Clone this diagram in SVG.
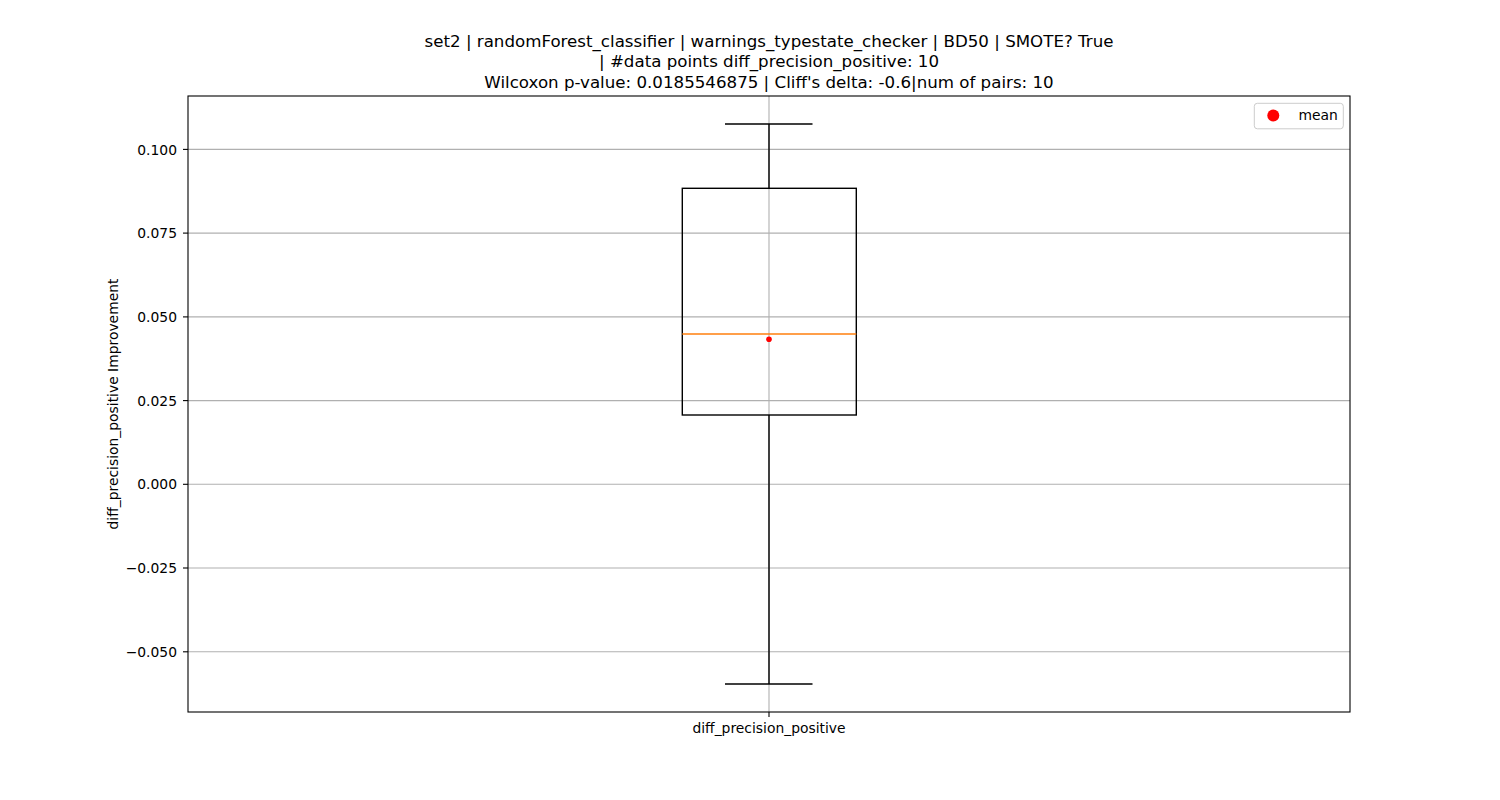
<svg xmlns="http://www.w3.org/2000/svg" width="1500" height="800" viewBox="0 0 1500 800">
<style>
text{font-family:"DejaVu Sans","Liberation Sans",sans-serif;fill:#000}
.tl{font-size:16.67px;text-anchor:middle}
.tk{font-size:13.89px}
.yt{text-anchor:end}
.grid{stroke:#b0b0b0;stroke-width:1.1}
.tick{stroke:#000;stroke-width:1.1}
.bx{stroke:#000;stroke-width:1.4;fill:none}
</style>
<rect width="1500" height="800" fill="#fff"/>
<g id="title">
<text class="tl" x="769" y="46.5">set2 | randomForest_classifier | warnings_typestate_checker | BD50 | SMOTE? True</text>
<text class="tl" x="769" y="67.3">| #data points diff_precision_positive: 10</text>
<text class="tl" x="769" y="88">Wilcoxon p-value: 0.0185546875 | Cliff's delta: -0.6|num of pairs: 10</text>
</g>
<g id="grid">
<line class="grid" x1="188" y1="149.4" x2="1350" y2="149.4"/>
<line class="grid" x1="188" y1="233.1" x2="1350" y2="233.1"/>
<line class="grid" x1="188" y1="316.9" x2="1350" y2="316.9"/>
<line class="grid" x1="188" y1="400.6" x2="1350" y2="400.6"/>
<line class="grid" x1="188" y1="484.3" x2="1350" y2="484.3"/>
<line class="grid" x1="188" y1="568" x2="1350" y2="568"/>
<line class="grid" x1="188" y1="651.8" x2="1350" y2="651.8"/>
<line class="grid" x1="769" y1="96" x2="769" y2="712"/>
</g>
<g id="yaxis">
<line class="tick" x1="183" y1="149.4" x2="188" y2="149.4"/>
<line class="tick" x1="183" y1="233.1" x2="188" y2="233.1"/>
<line class="tick" x1="183" y1="316.9" x2="188" y2="316.9"/>
<line class="tick" x1="183" y1="400.6" x2="188" y2="400.6"/>
<line class="tick" x1="183" y1="484.3" x2="188" y2="484.3"/>
<line class="tick" x1="183" y1="568" x2="188" y2="568"/>
<line class="tick" x1="183" y1="651.8" x2="188" y2="651.8"/>
<text class="tk yt" x="177" y="154.5">0.100</text>
<text class="tk yt" x="177" y="238.2">0.075</text>
<text class="tk yt" x="177" y="322">0.050</text>
<text class="tk yt" x="177" y="405.7">0.025</text>
<text class="tk yt" x="177" y="489.4">0.000</text>
<text class="tk yt" x="177" y="573.1">−0.025</text>
<text class="tk yt" x="177" y="656.9">−0.050</text>
<text class="tk" transform="translate(118,404) rotate(-90)" text-anchor="middle">diff_precision_positive Improvement</text>
</g>
<g id="xaxis">
<line class="tick" x1="769" y1="712" x2="769" y2="717"/>
<text class="tk" x="769" y="733" text-anchor="middle">diff_precision_positive</text>
</g>
<g id="connectors">
<line class="bx" x1="769" y1="124" x2="769" y2="188.3"/>
<line class="bx" x1="769" y1="415" x2="769" y2="684"/>
<line class="bx" x1="725" y1="124" x2="812.5" y2="124"/>
<line class="bx" x1="725" y1="684" x2="812.5" y2="684"/>
</g>
<g id="box">
<rect class="bx" x="682.3" y="188.3" width="174" height="226.7"/>
<line x1="682.3" y1="334" x2="856.3" y2="334" stroke="#ff7f0e" stroke-width="1.4"/>
</g>
<g id="mean">
<circle cx="769" cy="339.3" r="2.8" fill="#ff0000"/>
</g>
<g id="frame">
<rect x="188" y="96" width="1162" height="616" fill="none" stroke="#000" stroke-width="1.1"/>
</g>
<g id="legend">
<rect x="1254.3" y="103.3" width="89" height="25.5" rx="3" fill="#fff" fill-opacity="0.8" stroke="#cccccc" stroke-width="1"/>
<circle cx="1273.3" cy="115.5" r="6" fill="#ff0000"/>
<text class="tk" x="1298.5" y="120.3">mean</text>
</g>
</svg>
